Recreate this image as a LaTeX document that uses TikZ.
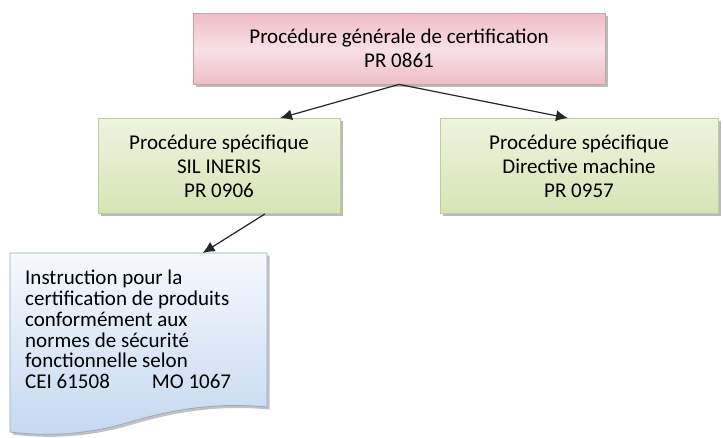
\documentclass[tikz,border=0pt]{standalone}
\usepackage{fontspec}
\setmainfont{Carlito}
\usetikzlibrary{arrows.meta,shadows}

\definecolor{genedge}{RGB}{205,160,168}
\definecolor{gentop}{RGB}{240,188,198}
\definecolor{genmid}{RGB}{248,224,228}
\definecolor{genbot}{RGB}{238,190,200}
\definecolor{specedge}{RGB}{190,205,160}
\definecolor{spectop}{RGB}{238,244,222}
\definecolor{specbot}{RGB}{214,228,180}
\definecolor{instredge}{RGB}{150,170,200}
\definecolor{instrtop}{RGB}{246,249,253}
\definecolor{instrbot}{RGB}{196,216,240}

\begin{document}
\begin{tikzpicture}[x=1pt,y=-1pt,
  procbox/.style={draw,line width=0.8pt,align=center,inner sep=0pt,
    font=\fontsize{21}{24}\selectfont,
    drop shadow={shadow xshift=2.5pt,shadow yshift=-2.5pt,fill=black!45,opacity=0.6}},
  arrow/.style={-{Latex[length=12pt,width=11pt]},line width=1.2pt,black!85}]
\useasboundingbox (0,0) rectangle (723,437);

% General procedure
\node[procbox,draw=genedge,top color=gentop,bottom color=genbot,middle color=genmid,
  minimum width=412pt,minimum height=71pt] (gen) at (399,48.5)
  {Procédure générale de certification\\PR 0861};

% Specific procedures
\node[procbox,draw=specedge,top color=spectop,bottom color=specbot,
  minimum width=242pt,minimum height=95pt] (sil) at (219,166)
  {Procédure spécifique\\SIL INERIS\\PR 0906};
\node[procbox,draw=specedge,top color=spectop,bottom color=specbot,
  minimum width=278pt,minimum height=95pt] (mach) at (579,166)
  {Procédure spécifique\\Directive machine\\PR 0957};

% Instruction (document shape)
\fill[black!40,opacity=0.6,shift={(2.5,2.5)}] (10,253) -- (267,253) -- (267,407)
  .. controls (215,402) and (170,410) .. (130,422)
  .. controls (90,434) and (50,437) .. (10,432) -- cycle;
\shade[draw=instredge,line width=0.8pt,top color=instrtop,bottom color=instrbot]
  (10,253) -- (267,253) -- (267,407)
  .. controls (215,402) and (170,410) .. (130,422)
  .. controls (90,434) and (50,437) .. (10,432) -- cycle;
\node[anchor=north west,inner sep=0pt,minimum width=257pt,minimum height=150pt] (instr) at (10,253) {};
\node[anchor=north west,align=left,inner sep=0pt,font=\fontsize{21}{20.8}\selectfont] (instrtext) at (25,270)
  {Instruction pour la\\certification de produits\\conformément aux\\normes de sécurité\\fonctionnelle selon\\CEI 61508\hspace{42pt}MO 1067};

% Connectors
\draw[arrow] (gen.south) -- ([xshift=61pt]sil.north);
\draw[arrow] (gen.south) -- ([xshift=-11pt]mach.north);
\draw[arrow] ([xshift=46pt]sil.south) -- ([xshift=64pt]instr.north);

\end{tikzpicture}
\end{document}
